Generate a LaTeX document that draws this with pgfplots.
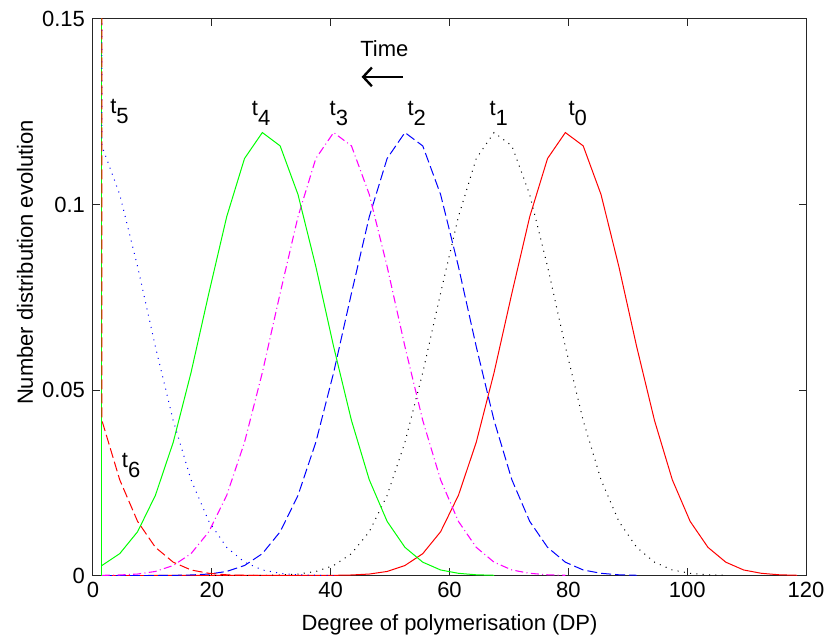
\documentclass[border=0pt]{standalone}
\usepackage{fontspec}
\setmainfont{Liberation Sans}
\usepackage{pgfplots}
\pgfplotsset{compat=1.18}
\usetikzlibrary{arrows.meta}
\definecolor{mg}{rgb}{1,0,1}
\definecolor{gr}{rgb}{0,1,0}
\definecolor{rd}{rgb}{1,0,0}
\definecolor{bl}{rgb}{0,0,1}
\newcommand{\lf}{\fontsize{16.5}{19}\selectfont}
\newcommand{\tl}[1]{t\raisebox{-7.5pt}{#1}}
\begin{document}
\begin{tikzpicture}
\begin{axis}[
  scale only axis, width=534.75pt, height=417.4pt,
  xmin=0, xmax=120, ymin=0, ymax=0.15,
  xtick={0,20,...,120},
  ytick={0,0.05,0.1,0.15}, yticklabels={0,0.05,0.1,0.15},
  scaled y ticks=false,
  tick align=inside, major tick length=5.5pt,
  axis line style={line width=0.75pt, black!85},
  tick style={line width=0.75pt, black!85},
  every tick label/.append style={font=\lf},
  /pgf/number format/assume math mode=true,
  xticklabel style={yshift=-1.5pt},
  yticklabel style={xshift=-2.5pt},
  xlabel={Degree of polymerisation (DP)},
  ylabel={Number distribution evolution},
  xlabel style={at={(axis description cs:0.5,0)}, anchor=base, yshift=-40.9pt, font=\lf},
  ylabel style={at={(axis description cs:-0.0954,0.5625)}, anchor=center, font=\lf},
]
% t0
\addplot[rd, line width=0.75pt] coordinates {
(1.5,0) (40.5,0.00005) (43.5,0.00015) (46.5,0.0004) (49.5,0.0011) (52.5,0.0027)
(55.5,0.0059) (58.5,0.0118) (61.5,0.0216) (64.5,0.0359) (67.5,0.0547) (70.5,0.0761)
(73.5,0.0967) (76.5,0.1124) (79.5,0.1194) (82.5,0.1158) (85.5,0.1027) (88.5,0.0833)
(91.5,0.0617) (94.5,0.0418) (97.5,0.0258) (100.5,0.0146) (103.5,0.0076) (106.5,0.0036)
(109.5,0.0015) (112.5,0.0006) (115.5,0.0002) (118.5,0.00007)};
% t1
\addplot[black, line width=0.75pt, dash pattern=on 0.75pt off 4pt] coordinates {
(19.5,0) (22.5,0) (25.5,0) (28.5,0.00005) (31.5,0.00015) (34.5,0.0004) (37.5,0.0011)
(40.5,0.0027) (43.5,0.0059) (46.5,0.0118) (49.5,0.0216) (52.5,0.0359) (55.5,0.0547)
(58.5,0.0761) (61.5,0.0967) (64.5,0.1124) (67.5,0.1194) (70.5,0.1158) (73.5,0.1027)
(76.5,0.0833) (79.5,0.0617) (82.5,0.0418) (85.5,0.0258) (88.5,0.0146) (91.5,0.0076)
(94.5,0.0036) (97.5,0.0015) (100.5,0.0006) (103.5,0.0002) (106.5,0.00007)};
% t2
\addplot[bl, line width=0.75pt, dash pattern=on 7.5pt off 3pt] coordinates {
(1.5,0) (4.5,0) (7.5,0) (10.5,0) (13.5,0.00005) (16.5,0.00015) (19.5,0.0004) (22.5,0.0011)
(25.5,0.0027) (28.5,0.0059) (31.5,0.0118) (34.5,0.0216) (37.5,0.0359) (40.5,0.0547)
(43.5,0.0761) (46.5,0.0967) (49.5,0.1124) (52.5,0.1194) (55.5,0.1158) (58.5,0.1027)
(61.5,0.0833) (64.5,0.0617) (67.5,0.0418) (70.5,0.0258) (73.5,0.0146) (76.5,0.0076)
(79.5,0.0036) (82.5,0.0015) (85.5,0.0006) (88.5,0.0002) (91.5,0.00007)};
% t3
\addplot[mg, line width=0.8pt, dash pattern=on 6pt off 2.5pt on 0.75pt off 2.5pt] coordinates {
(1.5,0.00005) (4.5,0.00015) (7.5,0.0004) (10.5,0.0011) (13.5,0.0027) (16.5,0.0059)
(19.5,0.0118) (22.5,0.0216) (25.5,0.0359) (28.5,0.0547) (31.5,0.0761) (34.5,0.0967)
(37.5,0.1124) (40.5,0.1194) (43.5,0.1158) (46.5,0.1027) (49.5,0.0833) (52.5,0.0617)
(55.5,0.0418) (58.5,0.0258) (61.5,0.0146) (64.5,0.0076) (67.5,0.0036) (70.5,0.0015)
(73.5,0.0006) (76.5,0.0002) (79.5,0.00007)};
% t4
\addplot[gr, line width=0.75pt] coordinates {
(1.5,0.0027) (4.5,0.0059) (7.5,0.0118) (10.5,0.0216) (13.5,0.0359) (16.5,0.0547)
(19.5,0.0761) (22.5,0.0967) (25.5,0.1124) (28.5,0.1194) (31.5,0.1158) (34.5,0.1027)
(37.5,0.0833) (40.5,0.0617) (43.5,0.0418) (46.5,0.0258) (49.5,0.0146) (52.5,0.0076)
(55.5,0.0036) (58.5,0.0015) (61.5,0.0006) (64.5,0.0002) (67.5,0.00007)};
\addplot[gr, line width=0.75pt] coordinates {(1.5,0) (1.5,0.2)};
% t5
\addplot[bl, line width=0.75pt, dash pattern=on 0.75pt off 4pt] coordinates {
(1.5,0.2) (1.5,0.1158) (4.5,0.1027) (7.5,0.0833) (10.5,0.0617) (13.5,0.0418)
(16.5,0.0258) (19.5,0.0146) (22.5,0.0076) (25.5,0.0036) (28.5,0.0015) (31.5,0.0006)
(34.5,0.0002) (37.5,0.00007) (40.5,0)};
% t6
\addplot[rd, line width=0.75pt, dash pattern=on 7.5pt off 3pt] coordinates {
(1.5,0.2) (1.5,0.0418) (4.5,0.0258) (7.5,0.0146) (10.5,0.0076) (13.5,0.0036)
(16.5,0.0015) (19.5,0.0006) (22.5,0.0002) (25.5,0.00007) (28.5,0) (31.5,0) (34.5,0)};

\coordinate (sw) at (rel axis cs:0,0);
\node[anchor=base west, inner sep=0, font=\lf] at (axis cs:80.0,0.1241) {\tl{0}};
\node[anchor=base west, inner sep=0, font=\lf] at (axis cs:66.7,0.1241) {\tl{1}};
\node[anchor=base west, inner sep=0, font=\lf] at (axis cs:52.9,0.1241) {\tl{2}};
\node[anchor=base west, inner sep=0, font=\lf] at (axis cs:39.8,0.1241) {\tl{3}};
\node[anchor=base west, inner sep=0, font=\lf] at (axis cs:26.7,0.1241) {\tl{4}};
\node[anchor=base west, inner sep=0, font=\lf] at (axis cs:2.86,0.1246) {\tl{5}};
\node[anchor=base west, inner sep=0, font=\lf] at (axis cs:4.83,0.0292) {\tl{6}};
\node[anchor=base west, inner sep=0, font=\lf] at (axis cs:44.95,0.1398) {Time};
\draw[line width=1.8pt, -{Straight Barb[length=6.5pt,width=14pt]}] (axis cs:52.2,0.1344) -- (axis cs:45.2,0.1344);
\end{axis}
\pgfresetboundingbox
\path (sw) ++(-69.75pt,-47.6pt) rectangle ++(620.25pt,479.25pt);
\end{tikzpicture}
\end{document}
